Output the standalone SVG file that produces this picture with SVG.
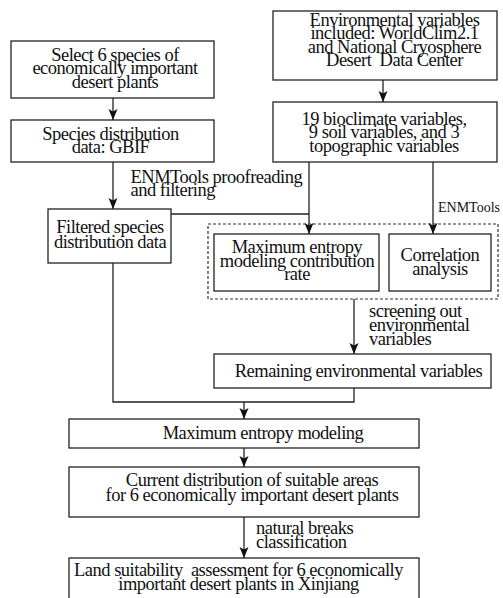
<svg xmlns="http://www.w3.org/2000/svg" width="503" height="598" viewBox="0 0 503 598">
<defs>
<style>
.box{fill:#fff;stroke:#222;stroke-width:1.3}
.dash{fill:none;stroke:#333;stroke-width:1.2;stroke-dasharray:3 2}
.ln{fill:none;stroke:#222;stroke-width:1.3}
.arr{marker-end:url(#ah)}
text{font-family:"Liberation Serif","Times New Roman",serif;font-size:18.5px;letter-spacing:-0.5px;fill:#111;white-space:pre}
.c{text-anchor:middle}
.s{text-anchor:start}
.sm{font-size:14px;letter-spacing:0}
</style>
<marker id="ah" markerUnits="userSpaceOnUse" markerWidth="12" markerHeight="10" refX="11" refY="5" orient="auto">
<path d="M0,0.5 L11,5 L0,9.5 L2.5,5 z" fill="#111"/>
</marker>
</defs>
<rect width="503" height="598" fill="#fff"/>
<g id="connectors">
<line class="ln arr" x1="113" y1="98" x2="113" y2="120"/>
<line class="ln arr" x1="383" y1="80" x2="383" y2="102"/>
<line class="ln arr" x1="113" y1="162" x2="113" y2="209"/>
<polyline class="ln" points="171,214 309,214"/>
<line class="ln arr" x1="309" y1="162" x2="309" y2="234"/>
<line class="ln arr" x1="433" y1="162" x2="433" y2="234"/>
<line class="ln arr" x1="354" y1="299" x2="354" y2="354"/>
<polyline class="ln" points="113,263 113,402 354,402 354,388"/>
<line class="ln arr" x1="244" y1="402" x2="244" y2="419"/>
<line class="ln arr" x1="244" y1="448" x2="244" y2="467"/>
<line class="ln arr" x1="244" y1="517" x2="244" y2="558"/>
<text class="s" x="130.5" y="183">ENMTools proofreading</text>
<text class="s" x="130.5" y="196">and filtering</text>
<text class="s sm" x="438" y="212">ENMTools</text>
<text class="s" x="369" y="317">screening out</text>
<text class="s" x="369" y="330.5">environmental</text>
<text class="s" x="369" y="344.5">variables</text>
<text class="s" x="256" y="534">natural breaks</text>
<text class="s" x="256" y="547.5">classification</text>
</g>
<g id="select">
<rect class="box" x="11" y="41" width="203" height="57"/>
<text class="c" x="115" y="61">Select 6 species of</text>
<text class="c" x="115" y="74.3">economically important</text>
<text class="c" x="115" y="87.5">desert plants</text>
</g>
<g id="species">
<rect class="box" x="11" y="120" width="203" height="42"/>
<text class="c" x="110.5" y="139.5">Species distribution</text>
<text class="c" x="110.5" y="153">data: GBIF</text>
</g>
<g id="env">
<rect class="box" x="273" y="11" width="224" height="69"/>
<text class="c" x="394.5" y="25.7">Environmental variables</text>
<text class="c" x="394.5" y="39.3">included: WorldClim2.1</text>
<text class="c" x="394.5" y="52.7">and National Cryosphere</text>
<text class="c" x="394.5" y="66">Desert  Data Center</text>
</g>
<g id="bioclim">
<rect class="box" x="273" y="102" width="224" height="60"/>
<text class="c" x="384" y="125">19 bioclimate variables,</text>
<text class="c" x="384" y="138.3">9 soil variables, and 3</text>
<text class="c" x="384" y="151.7">topographic variables</text>
</g>
<g id="filtered">
<rect class="box" x="48" y="209" width="123" height="54"/>
<text class="c" x="110" y="233">Filtered species</text>
<text class="c" x="110" y="247.5">distribution data</text>
</g>
<g id="group-dashed">
<rect class="dash" x="208" y="224" width="290" height="75"/>
</g>
<g id="maxcontrib">
<rect class="box" x="214" y="234" width="165" height="57"/>
<text class="c" x="297" y="253">Maximum entropy</text>
<text class="c" x="297" y="266.5">modeling contribution</text>
<text class="c" x="297" y="280">rate</text>
</g>
<g id="correlation">
<rect class="box" x="389" y="234" width="102" height="57"/>
<text class="c" x="440" y="260.5">Correlation</text>
<text class="c" x="440" y="275">analysis</text>
</g>
<g id="remaining">
<rect class="box" x="214" y="354" width="277" height="34"/>
<text class="c" x="358.5" y="377">Remaining environmental variables</text>
</g>
<g id="maxent">
<rect class="box" x="69" y="419" width="350" height="29"/>
<text class="c" x="263" y="439.3">Maximum entropy modeling</text>
</g>
<g id="current">
<rect class="box" x="69" y="467" width="350" height="50"/>
<text class="c" x="252" y="486">Current distribution of suitable areas</text>
<text class="c" x="252" y="500.5">for 6 economically important desert plants</text>
</g>
<g id="land">
<rect class="box" x="69" y="558" width="350" height="50"/>
<text class="c" x="238.5" y="575.7">Land suitability  assessment for 6 economically</text>
<text class="c" x="238.5" y="590">important desert plants in Xinjiang</text>
</g>
</svg>
